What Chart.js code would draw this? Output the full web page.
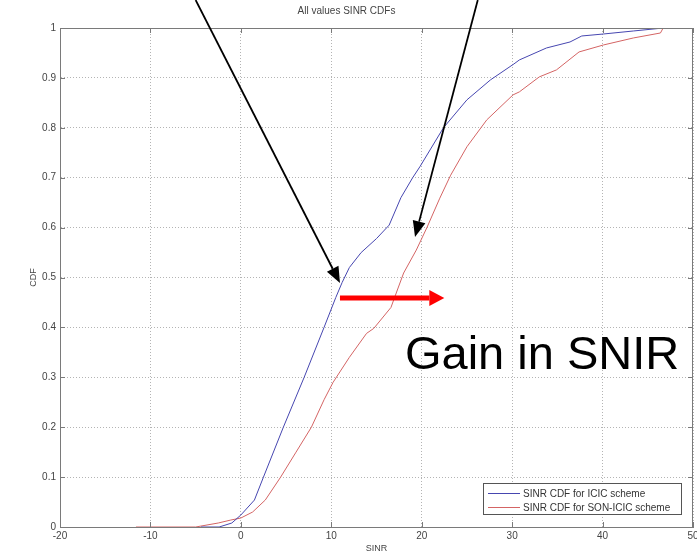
<!DOCTYPE html>
<html>
<head>
<meta charset="utf-8">
<script src="https://cdn.jsdelivr.net/npm/chart.js@4"></script>
<style>
  body { margin: 0; background: #fff; }
</style>
</head>
<body>
<canvas id="chart" width="697" height="557"></canvas>
<script>
// values
const icicSinr = [-4.4, -2.4, -1.0, 0.0, 1.5, 2.5, 4.7, 7.0, 9.2, 10.5, 11.2, 12.0, 13.3, 15.0, 16.4, 17.7, 19.0, 19.8, 22.4, 25.0, 27.6, 30.2, 30.8, 33.8, 36.4, 37.7, 40.1, 43.4, 46.7];
const icicCdf  = [0, 0, 0.008, 0.024, 0.054, 0.1, 0.2, 0.3, 0.4, 0.46, 0.49, 0.52, 0.55, 0.578, 0.605, 0.66, 0.70, 0.722, 0.80, 0.856, 0.896, 0.928, 0.936, 0.96, 0.972, 0.984, 0.988, 0.994, 1.0];

const sonSinr = [-11.6, -5.0, -2.5, -1.1, 0.0, 1.3, 2.7, 4.4, 6.1, 7.8, 9.2, 10.2, 12.0, 13.9, 14.7, 16.6, 16.9, 18.0, 19.4, 20.6, 22.0, 23.2, 25.0, 27.2, 30.1, 30.8, 33.0, 34.9, 37.4, 40.1, 43.4, 46.4, 46.7];
const sonCdf  = [0, 0, 0.008, 0.014, 0.018, 0.03, 0.054, 0.1, 0.15, 0.2, 0.255, 0.29, 0.34, 0.388, 0.398, 0.44, 0.455, 0.509, 0.555, 0.601, 0.659, 0.705, 0.762, 0.816, 0.866, 0.872, 0.902, 0.916, 0.952, 0.966, 0.98, 0.99, 1.0];

const seriesLabels = ['SINR CDF for ICIC scheme', 'SINR CDF for SON-ICIC scheme'];
const seriesColors = ['#4646b0', '#d46464'];

// annotations, in data units (SINR, CDF)
const leftArrow  = { from: [-5.0, 1.056], to: [10.96, 0.489] };
const rightArrow = { from: [26.2, 1.056], to: [19.26, 0.581] };
const gainArrow  = { from: [10.96, 0.459], to: [22.5, 0.459] };
const gainText   = { text: 'Gain in SNIR', at: [18.15, 0.317] };

function toPoints(xs, ys) {
  return xs.map((x, i) => ({ x: x, y: ys[i] }));
}

function arrow(ctx, x1, y1, x2, y2, color, width, headLen, headHalf) {
  const a = Math.atan2(y2 - y1, x2 - x1);
  const bx = x2 - headLen * Math.cos(a), by = y2 - headLen * Math.sin(a);
  ctx.strokeStyle = color;
  ctx.fillStyle = color;
  ctx.lineWidth = width;
  ctx.beginPath();
  ctx.moveTo(x1, y1);
  ctx.lineTo(bx, by);
  ctx.stroke();
  ctx.beginPath();
  ctx.moveTo(x2, y2);
  ctx.lineTo(bx + headHalf * Math.sin(a), by - headHalf * Math.cos(a));
  ctx.lineTo(bx - headHalf * Math.sin(a), by + headHalf * Math.cos(a));
  ctx.closePath();
  ctx.fill();
}

const matlabBox = {
  id: 'matlabBox',
  afterDatasetsDraw(chart) {
    const { ctx, chartArea: a, scales: { x, y } } = chart;
    ctx.save();
    ctx.strokeStyle = '#7a7a7a';
    ctx.lineWidth = 1;
    ctx.strokeRect(a.left + 0.5, a.top + 0.5, a.right - a.left - 1, a.bottom - a.top);
    // inward ticks like matlab
    ctx.beginPath();
    x.ticks.forEach(t => {
      const px = Math.round(x.getPixelForValue(t.value)) + 0.5;
      ctx.moveTo(px, a.bottom); ctx.lineTo(px, a.bottom - 5);
      ctx.moveTo(px, a.top); ctx.lineTo(px, a.top + 5);
    });
    y.ticks.forEach(t => {
      const py = Math.round(y.getPixelForValue(t.value)) + 0.5;
      ctx.moveTo(a.left, py); ctx.lineTo(a.left + 5, py);
      ctx.moveTo(a.right, py); ctx.lineTo(a.right - 5, py);
    });
    ctx.stroke();
    ctx.restore();
  },
  afterDraw(chart) {
    const { ctx, chartArea: a, scales: { x, y } } = chart;
    ctx.save();

    // legend box, bottom right inside the axes
    const lw = 198, lh = 31;
    const lx = a.right - 12 - lw, ly = a.bottom - 13 - lh;
    ctx.fillStyle = '#fff';
    ctx.fillRect(lx, ly, lw, lh);
    ctx.strokeStyle = '#555';
    ctx.lineWidth = 1;
    ctx.strokeRect(lx + 0.5, ly + 0.5, lw, lh);
    ctx.font = '10px "Liberation Sans", Arial, sans-serif';
    ctx.textBaseline = 'middle';
    chart.data.datasets.forEach((ds, i) => {
      const ry = ly + 10 + i * 14;
      ctx.strokeStyle = ds.borderColor;
      ctx.beginPath();
      ctx.moveTo(lx + 5, ry + 0.5);
      ctx.lineTo(lx + 37, ry + 0.5);
      ctx.stroke();
      ctx.fillStyle = '#333';
      ctx.fillText(ds.label, lx + 40, ry + 1);
    });

    // arrows and text
    const p = pt => [x.getPixelForValue(pt[0]), y.getPixelForValue(pt[1])];
    [leftArrow, rightArrow].forEach(ar => {
      const f = p(ar.from), t = p(ar.to);
      arrow(ctx, f[0], f[1], t[0], t[1], '#000', 1.8, 16, 6.5);
    });
    const gf = p(gainArrow.from), gt = p(gainArrow.to);
    arrow(ctx, gf[0], gf[1], gt[0], gt[1], '#ff0000', 5, 15, 8);

    const tp = p(gainText.at);
    ctx.fillStyle = '#000';
    ctx.font = '47px "Liberation Sans", Arial, sans-serif';
    ctx.textBaseline = 'alphabetic';
    ctx.fillText(gainText.text, tp[0], tp[1]);
    ctx.restore();
  }
};

const chart = document.querySelector('#chart').getContext('2d');

new Chart(chart, {
  type: 'line',
  data: {
    datasets: [
      {
        label: seriesLabels[0],
        data: toPoints(icicSinr, icicCdf),
        borderColor: seriesColors[0],
        borderWidth: 1,
        pointRadius: 0,
        tension: 0
      },
      {
        label: seriesLabels[1],
        data: toPoints(sonSinr, sonCdf),
        borderColor: seriesColors[1],
        borderWidth: 1,
        pointRadius: 0,
        tension: 0
      }
    ]
  },
  options: {
    responsive: false,
    animation: false,
    layout: { padding: { left: 0, right: 4, top: 0, bottom: 0 } },
    plugins: {
      legend: { display: false },
      tooltip: { enabled: false },
      title: {
        display: true,
        text: 'All values SINR CDFs',
        color: '#444',
        font: { family: '"Liberation Sans", Arial, sans-serif', size: 10, weight: 'normal' },
        padding: { top: 5, bottom: 11 }
      }
    },
    scales: {
      x: {
        type: 'linear',
        min: -20,
        max: 50,
        ticks: {
          stepSize: 10,
          color: '#444',
          padding: 3,
          maxRotation: 0,
          font: { family: '"Liberation Sans", Arial, sans-serif', size: 10 }
        },
        grid: { color: '#b4b4b4', drawTicks: false },
        border: { color: '#7a7a7a', dash: [1, 2] },
        title: {
          display: true,
          text: 'SINR',
          color: '#444',
          font: { family: '"Liberation Sans", Arial, sans-serif', size: 9 },
          padding: { top: 0, bottom: 3 }
        },
        afterFit: s => { s.height = 30; s.paddingLeft = 0; s.paddingRight = 0; }
      },
      y: {
        type: 'linear',
        min: 0,
        max: 1,
        ticks: {
          stepSize: 0.1,
          color: '#444',
          padding: 4,
          font: { family: '"Liberation Sans", Arial, sans-serif', size: 10 },
          callback: v => String(Math.round(v * 10) / 10)
        },
        grid: { color: '#b4b4b4', drawTicks: false },
        border: { color: '#7a7a7a', dash: [1, 2] },
        title: {
          display: true,
          text: 'CDF',
          color: '#444',
          font: { family: '"Liberation Sans", Arial, sans-serif', size: 9 },
          padding: { top: 28, bottom: 0 }
        },
        afterFit: s => { s.width = 60; s.paddingTop = 0; s.paddingBottom = 0; }
      }
    }
  },
  plugins: [matlabBox]
});
</script>
</body>
</html>
